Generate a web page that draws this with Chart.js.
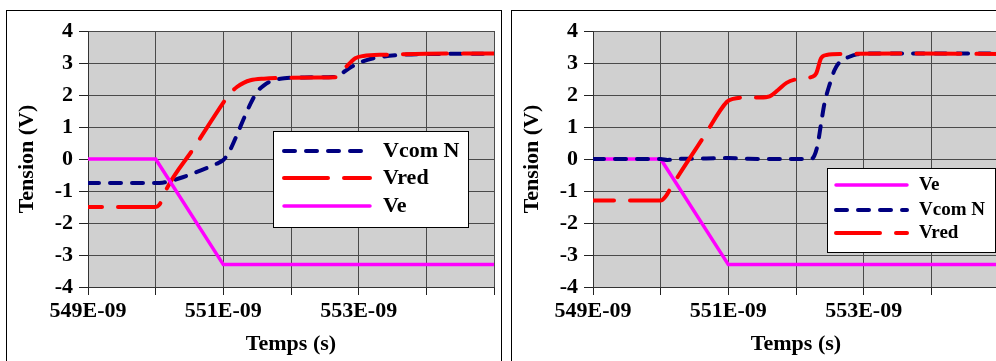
<!DOCTYPE html>
<html>
<head>
<meta charset="utf-8">
<script src="https://cdn.jsdelivr.net/npm/chart.js@4.4.0/dist/chart.umd.min.js"></script>
<style>
  html, body { margin: 0; padding: 0; background: #fff; width: 996px; height: 361px; overflow: hidden; }
  .frame { position: absolute; top: 10px; height: 360px; border: 1px solid #000; overflow: hidden; }
  #frameLeft { left: 6px; width: 494px; }
  #frameRight { left: 511px; width: 500px; }
  canvas { display: block; }
</style>
</head>
<body>
<div class="frame" id="frameLeft"><canvas id="chartLeft" width="494" height="350"></canvas></div>
<div class="frame" id="frameRight"><canvas id="chartRight" width="500" height="350"></canvas></div>
<script>
// Two transient plots (tension vs. time), x values in ns
const SERIF = '"Liberation Serif", "Times New Roman", serif';
const NAVY = '#000080';
const RED = '#ff0000';
const MAGENTA = '#ff00ff';
const PLOT_BG = '#d0d0d0';
const GRID = '#4a4a4a';

const xTickValues = [549, 550, 551, 552, 553, 554, 555];
const xTickLabels = ['549E-09', '', '551E-09', '', '553E-09', '', ''];
const yTickValues = [-4, -3, -2, -1, 0, 1, 2, 3, 4];

// Ve (same input ramp in both plots)
const veTime = [549, 550, 551, 555];
const veVolt = [0, 0, -3.3, -3.3];

// left plot
const leftComTime = [549, 550, 550.1, 550.2, 550.4, 550.65, 550.9, 551.0, 551.05, 551.1, 551.2, 551.3, 551.4, 551.5, 551.6, 551.72, 551.9, 552.2, 552.62, 552.72, 552.8, 552.87, 553.0, 553.13, 553.3, 553.6, 554.0, 555];
const leftComVolt = [-0.75, -0.75, -0.74, -0.7, -0.57, -0.37, -0.15, -0.03, 0.1, 0.28, 0.75, 1.25, 1.72, 2.1, 2.3, 2.45, 2.52, 2.55, 2.56, 2.63, 2.75, 2.85, 3.0, 3.1, 3.18, 3.25, 3.28, 3.29];
const leftRedTime = [549, 550, 550.05, 550.1, 550.17, 550.55, 551.0, 551.08, 551.2, 551.3, 551.4, 551.6, 552.0, 552.4, 552.68, 552.74, 552.8, 552.88, 552.95, 553.07, 553.4, 554.0, 555];
const leftRedVolt = [-1.5, -1.5, -1.44, -1.25, -0.9, 0.3, 1.76, 2.0, 2.25, 2.38, 2.46, 2.51, 2.54, 2.55, 2.56, 2.7, 2.85, 3.02, 3.15, 3.22, 3.26, 3.29, 3.3];

// right plot
const rightComTime = [549, 550, 550.1, 550.25, 550.5, 551.0, 551.3, 551.6, 552.22, 552.27, 552.32, 552.37, 552.42, 552.5, 552.57, 552.65, 552.77, 552.9, 553.2, 555];
const rightComVolt = [0, 0, -0.03, 0, 0.01, 0.03, 0.01, 0, 0, 0.1, 0.45, 1.1, 1.73, 2.35, 2.78, 3.04, 3.18, 3.27, 3.3, 3.3];
const rightRedTime = [549, 550, 550.07, 550.15, 550.26, 550.64, 550.98, 551.07, 551.24, 551.47, 551.61, 551.73, 551.86, 552.0, 552.24, 552.3, 552.37, 552.45, 552.69, 553.5, 555];
const rightRedVolt = [-1.3, -1.3, -1.18, -0.9, -0.53, 0.7, 1.79, 1.88, 1.92, 1.92, 1.96, 2.15, 2.38, 2.49, 2.57, 2.68, 3.15, 3.25, 3.28, 3.3, 3.28];

const pts = (t, v) => t.map((x, i) => ({ x: x, y: v[i] }));

Chart.defaults.font.family = SERIF;
Chart.defaults.font.weight = 'bold';
Chart.defaults.font.size = 22;
Chart.defaults.color = '#000';

// grey plot area
const plotBg = {
  id: 'plotBg',
  beforeDraw(chart) {
    const a = chart.chartArea;
    chart.ctx.save();
    chart.ctx.fillStyle = PLOT_BG;
    chart.ctx.fillRect(a.left, a.top, a.right - a.left, a.bottom - a.top);
    chart.ctx.restore();
  }
};

// boxed legend sitting inside the plot, like the spreadsheet one
const boxLegend = {
  id: 'boxLegend',
  afterDatasetsDraw(chart, args, o) {
    const ctx = chart.ctx;
    ctx.save();
    ctx.fillStyle = '#fff';
    ctx.fillRect(o.x, o.y, o.w, o.h);
    ctx.strokeStyle = '#000';
    ctx.lineWidth = 1;
    ctx.strokeRect(o.x + 0.5, o.y + 0.5, o.w, o.h);
    o.order.forEach((idx, i) => {
      const ds = chart.data.datasets[idx];
      const y = o.rows[i];
      ctx.beginPath();
      ctx.setLineDash(ds.borderDash || []);
      ctx.lineDashOffset = 0;
      ctx.lineCap = 'round';
      ctx.lineWidth = ds.borderWidth;
      ctx.strokeStyle = ds.borderColor;
      ctx.moveTo(o.lineX, y);
      ctx.lineTo(o.lineX + o.lineW, y);
      ctx.stroke();
      ctx.setLineDash([]);
      ctx.fillStyle = '#000';
      ctx.font = 'bold ' + o.fontSize + 'px ' + SERIF;
      ctx.textBaseline = 'middle';
      ctx.textAlign = 'left';
      ctx.fillText(ds.label, o.textX, y);
    });
    ctx.restore();
  }
};

function veSet() {
  return { label: 'Ve', data: pts(veTime, veVolt), borderColor: MAGENTA, borderWidth: 3.5, tension: 0 };
}
function comSet(t, v) {
  return { label: 'Vcom N', data: pts(t, v), borderColor: NAVY, borderWidth: 4, borderDash: [11, 11],
    borderCapStyle: 'round', cubicInterpolationMode: 'monotone' };
}
function redSet(t, v, off) {
  return { label: 'Vred', data: pts(t, v), borderColor: RED, borderWidth: 4, borderDash: [44, 16],
    borderDashOffset: off, borderCapStyle: 'round', cubicInterpolationMode: 'monotone' };
}

function makeChart(id, datasets, padRight, legend) {
  return new Chart(document.getElementById(id), {
    type: 'line',
    data: { datasets: datasets },
    plugins: [plotBg, boxLegend],
    options: {
      responsive: false,
      animation: false,
      layout: { padding: { top: 20, right: padRight, left: 0, bottom: 0 } },
      elements: { point: { radius: 0 } },
      plugins: { legend: { display: false }, tooltip: { enabled: false }, boxLegend: legend },
      scales: {
        x: {
          type: 'linear',
          min: 549,
          max: 555,
          afterBuildTicks: (s) => { s.ticks = xTickValues.map((v) => ({ value: v })); },
          afterFit: (s) => { s.height = 74; },
          grid: { color: GRID, tickLength: 8, tickColor: '#222' },
          border: { color: '#333' },
          ticks: {
            autoSkip: false,
            maxRotation: 0,
            padding: 3,
            callback: (v) => xTickLabels[xTickValues.indexOf(v)] || ''
          },
          title: { display: true, text: 'Temps (s)', font: { size: 22, weight: 'bold' }, padding: { top: 0, bottom: 3 } }
        },
        y: {
          min: -4,
          max: 4,
          afterBuildTicks: (s) => { s.ticks = yTickValues.map((v) => ({ value: v })); },
          afterFit: (s) => { s.width = 81; },
          grid: { color: GRID, tickLength: 9, tickColor: '#222' },
          border: { color: '#333' },
          ticks: { padding: 6 },
          title: { display: true, text: 'Tension (V)', font: { size: 22, weight: 'bold' }, padding: { top: 7, bottom: 0 } }
        }
      }
    }
  });
}

makeChart('chartLeft',
  [veSet(), redSet(leftRedTime, leftRedVolt, 30), comSet(leftComTime, leftComVolt)],
  7,
  { x: 266, y: 120, w: 195, h: 96, rows: [140, 167, 195], lineX: 277, lineW: 86, textX: 376, fontSize: 22, order: [2, 1, 0] });

makeChart('chartRight',
  [redSet(rightRedTime, rightRedVolt, 23), comSet(rightComTime, rightComVolt), veSet()],
  13,
  { x: 315, y: 157, w: 168, h: 84, rows: [174, 199, 222], lineX: 324, lineW: 71, textX: 407, fontSize: 19, order: [2, 1, 0] });
</script>
</body>
</html>
